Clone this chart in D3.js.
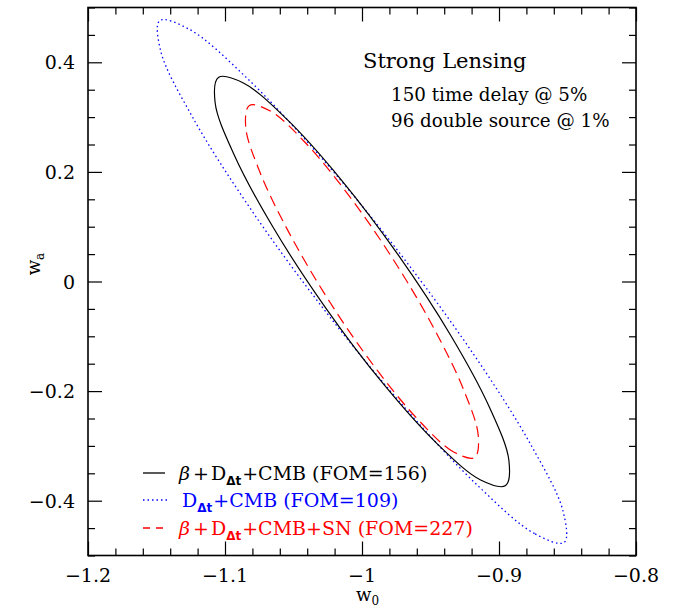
<!DOCTYPE html>
<html>
<head>
<meta charset="utf-8">
<script src="https://cdn.jsdelivr.net/npm/d3@7"></script>
<style>
  html, body { margin: 0; padding: 0; background: #fff; }
  svg { display: block; }
  text { font-family: "DejaVu Serif", serif; }
</style>
</head>
<body>
<svg id="chart" width="686" height="608"></svg>
<script>
// ---------------- data ----------------
const xMajorTicks = [-1.2, -1.1, -1.0, -0.9, -0.8];
const xTickLabels = ["\u22121.2", "\u22121.1", "\u22121", "\u22120.9", "\u22120.8"];
const yMajorTicks = [-0.4, -0.2, 0, 0.2, 0.4];
const yTickLabels = ["\u22120.4", "\u22120.2", "0", "0.2", "0.4"];

// Contours: [w0, wa]
const contourDtCMB = [
  [-0.8524, -0.4761], [-0.8741, -0.4600], [-0.9149, -0.3739], [-0.9686, -0.2308],
  [-1.0272, -0.0527], [-1.0816, 0.1334], [-1.1236, 0.2995], [-1.1468, 0.4195],
  [-1.1476, 0.4761], [-1.1259, 0.4600], [-1.0851, 0.3739], [-1.0314, 0.2308],
  [-0.9728, 0.0527], [-0.9184, -0.1334], [-0.8764, -0.2995], [-0.8532, -0.4195]
];
const contourBetaDtCMB = [
  [-0.8952, -0.3724], [-0.9134, -0.3622], [-0.9449, -0.2967], [-0.9847, -0.1861],
  [-1.0268, -0.0472], [-1.0649, 0.0989], [-1.0931, 0.2299], [-1.1072, 0.3261],
  [-1.1048, 0.3724], [-1.0866, 0.3622], [-1.0551, 0.2967], [-1.0153, 0.1861],
  [-0.9732, 0.0472], [-0.9351, -0.0989], [-0.9069, -0.2299], [-0.8928, -0.3261]
];
const contourBetaDtCMBSN = [
  [-0.9178, -0.3212], [-0.9331, -0.3111], [-0.9585, -0.2536], [-0.9902, -0.1577],
  [-1.0235, -0.0375], [-1.0531, 0.0883], [-1.0747, 0.2007], [-1.0849, 0.2823],
  [-1.0822, 0.3212], [-1.0669, 0.3111], [-1.0415, 0.2536], [-1.0098, 0.1577],
  [-0.9765, 0.0375], [-0.9469, -0.0883], [-0.9253, -0.2007], [-0.9151, -0.2823]
];

const seriesNames = ["betaDtCMB", "DtCMB", "betaDtCMBSN"];
const seriesColors = ["#000000", "#0000ff", "#ff0000"];
const seriesFOM = [156, 109, 227];
const titleLines = ["Strong Lensing", "150 time delay @ 5%", "96 double source @ 1%"];

// ---------------- layout ----------------
const svg = d3.select("#chart");
const L = 88, T = 7.5, W = 548, H = 548;
const x = d3.scaleLinear().domain([-1.2, -0.8]).range([L, L + W]);
const y = d3.scaleLinear().domain([-0.5, 0.5]).range([T + H, T]);

const plot = svg.append("g");
plot.append("clipPath").attr("id", "clip")
  .append("rect").attr("x", L).attr("y", T).attr("width", W).attr("height", H);

// ticks (inward, all four sides)
const xMinor = d3.range(-1.2, -0.8 + 1e-9, 0.02).filter(v => !xMajorTicks.some(m => Math.abs(m - v) < 1e-6));
const yMinor = d3.range(-0.5, 0.5 + 1e-9, 0.05).filter(v => !yMajorTicks.some(m => Math.abs(m - v) < 1e-6));

function styleAxis(g) {
  g.select(".domain").remove();
  g.selectAll(".tick line").attr("stroke", "#000").attr("stroke-width", 1.2);
  g.selectAll(".tick text").remove();
}
plot.append("g").attr("transform", `translate(0,${T + H})`)
  .call(d3.axisBottom(x).tickValues(xMajorTicks).tickSize(-14)).call(styleAxis);
plot.append("g").attr("transform", `translate(0,${T + H})`)
  .call(d3.axisBottom(x).tickValues(xMinor).tickSize(-7)).call(styleAxis);
plot.append("g").attr("transform", `translate(0,${T})`)
  .call(d3.axisTop(x).tickValues(xMajorTicks).tickSize(-14)).call(styleAxis);
plot.append("g").attr("transform", `translate(0,${T})`)
  .call(d3.axisTop(x).tickValues(xMinor).tickSize(-7)).call(styleAxis);
plot.append("g").attr("transform", `translate(${L},0)`)
  .call(d3.axisLeft(y).tickValues(yMajorTicks).tickSize(-14)).call(styleAxis);
plot.append("g").attr("transform", `translate(${L},0)`)
  .call(d3.axisLeft(y).tickValues(yMinor).tickSize(-7)).call(styleAxis);
plot.append("g").attr("transform", `translate(${L + W},0)`)
  .call(d3.axisRight(y).tickValues(yMajorTicks).tickSize(-14)).call(styleAxis);
plot.append("g").attr("transform", `translate(${L + W},0)`)
  .call(d3.axisRight(y).tickValues(yMinor).tickSize(-7)).call(styleAxis);

// tick labels
svg.append("g").selectAll("text").data(xMajorTicks).join("text")
  .attr("x", d => x(d)).attr("y", T + H + 26.5)
  .attr("text-anchor", "middle").attr("font-size", 19)
  .text((d, i) => xTickLabels[i]);
svg.append("g").selectAll("text").data(yMajorTicks).join("text")
  .attr("x", L - 13).attr("y", d => y(d) + 7)
  .attr("text-anchor", "end").attr("font-size", 19)
  .text((d, i) => yTickLabels[i]);

// axis titles
const xt = svg.append("text").attr("x", 356).attr("y", 601).attr("font-size", 18);
xt.append("tspan").text("w");
xt.append("tspan").attr("font-size", 12).attr("dy", 4).text("0");
const yt = svg.append("text").attr("transform", "translate(40,264) rotate(-90)")
  .attr("text-anchor", "middle").attr("font-size", 18);
yt.append("tspan").text("w");
yt.append("tspan").attr("font-size", 12).attr("dy", 4).text("a");

// contours
const line = d3.line().x(d => x(d[0])).y(d => y(d[1])).curve(d3.curveCatmullRomClosed.alpha(0.5));
const cg = plot.append("g").attr("clip-path", "url(#clip)").attr("fill", "none");
cg.append("path").datum(contourDtCMB).attr("d", line)
  .attr("stroke", seriesColors[1]).attr("stroke-width", 1.3).attr("stroke-dasharray", "1.5,3");
cg.append("path").datum(contourBetaDtCMB).attr("d", line)
  .attr("stroke", seriesColors[0]).attr("stroke-width", 1.2);
cg.append("path").datum(contourBetaDtCMBSN).attr("d", line)
  .attr("stroke", seriesColors[2]).attr("stroke-width", 1.2).attr("stroke-dasharray", "11,6");

// frame
plot.append("rect").attr("x", L).attr("y", T).attr("width", W).attr("height", H)
  .attr("fill", "none").attr("stroke", "#000").attr("stroke-width", 1.6);

// title text
svg.append("text").attr("x", 363).attr("y", 68).attr("font-size", 21).text(titleLines[0]);
svg.append("text").attr("x", 391).attr("y", 101).attr("font-size", 18.3).text(titleLines[1]);
svg.append("text").attr("x", 391).attr("y", 127).attr("font-size", 18.3).text(titleLines[2]);

// legend
const leg = svg.append("g");
const legY = [480, 507, 535];
const legDash = [null, "1.5,3", "7,6"];
const legX2 = [165, 168, 163];
// row order: black, blue, red
[0, 1, 2].forEach(i => {
  leg.append("line").attr("x1", 143).attr("x2", legX2[i])
    .attr("y1", legY[i] - 7).attr("y2", legY[i] - 7)
    .attr("stroke", seriesColors[i]).attr("stroke-width", 1.3)
    .attr("stroke-dasharray", legDash[i]);
  const t = leg.append("text").attr("x", i === 1 ? 182 : 179).attr("y", legY[i])
    .attr("font-size", 19).attr("fill", seriesColors[i]);
  if (i !== 1) {
    t.append("tspan").attr("font-style", "italic").text("\u03B2");
    t.append("tspan").attr("dx", 3).text("+");
    t.append("tspan").attr("dx", 2).text("D");
  } else {
    t.append("tspan").text("D");
  }
  t.append("tspan").attr("font-size", 12).attr("font-weight", "bold").attr("font-family", "DejaVu Sans")
    .attr("dy", 5).text("\u0394t");
  const tail = i === 2 ? "+CMB+SN" : "+CMB";
  t.append("tspan").attr("dy", -5).attr("dx", 1).text(tail + " (FOM=" + seriesFOM[i] + ")");
});
</script>
</body>
</html>
